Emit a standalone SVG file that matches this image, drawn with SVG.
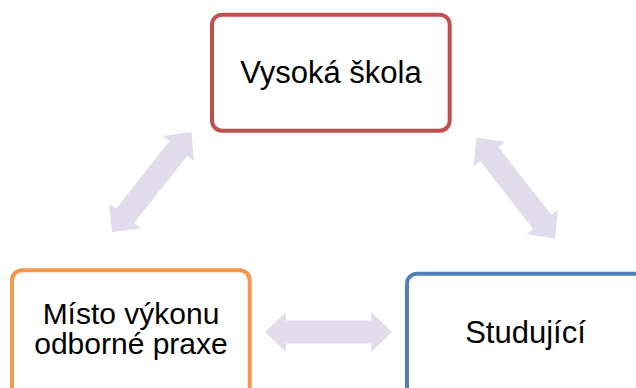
<svg xmlns="http://www.w3.org/2000/svg" xmlns:xlink="http://www.w3.org/1999/xlink" width="636" height="388" viewBox="0 0 636 388">
  <style>
    .box { fill: #FFFFFF; stroke-width: 4; }
    .lbl { font-family: "Liberation Sans", Arial, sans-serif; font-size: 31px; fill: #000000; text-anchor: middle; }
    .lbl2 { font-family: "Liberation Sans", Arial, sans-serif; font-size: 30px; fill: #000000; text-anchor: middle; }
    .arr { fill: #E1DCEB; }
  </style>
  <defs>
    <path id="dbl" d="M -64,0 L -43,-20 L -43,-11.5 L 43,-11.5 L 43,-20 L 64,0 L 43,20 L 43,11.5 L -43,11.5 L -43,20 Z"/>
  </defs>
  <rect width="636" height="388" fill="#FFFFFF"/>
  <g id="connectors">
    <use xlink:href="#dbl" class="arr" transform="translate(151.7,182.2) rotate(-51.6)"/>
    <use xlink:href="#dbl" class="arr" transform="translate(515.8,188) rotate(52.1)"/>
    <use xlink:href="#dbl" class="arr" transform="translate(328.5,332) scale(0.992,1)"/>
  </g>
  <g id="vysoka-skola">
    <rect class="box" x="212" y="14.7" width="237.7" height="116" rx="10" stroke="#C0504D"/>
    <text class="lbl" x="331" y="83">Vysoká škola</text>
  </g>
  <g id="misto-vykonu">
    <rect class="box" x="12" y="270.3" width="237.7" height="130" rx="10" stroke="#F79646"/>
    <text class="lbl2" x="131" y="324">Místo výkonu</text>
    <text class="lbl2" x="131" y="354">odborné praxe</text>
  </g>
  <g id="studujici">
    <rect class="box" x="407" y="273.7" width="237.7" height="130" rx="10" stroke="#4F81BD"/>
    <text class="lbl" x="525.5" y="342.7">Studující</text>
  </g>
</svg>
